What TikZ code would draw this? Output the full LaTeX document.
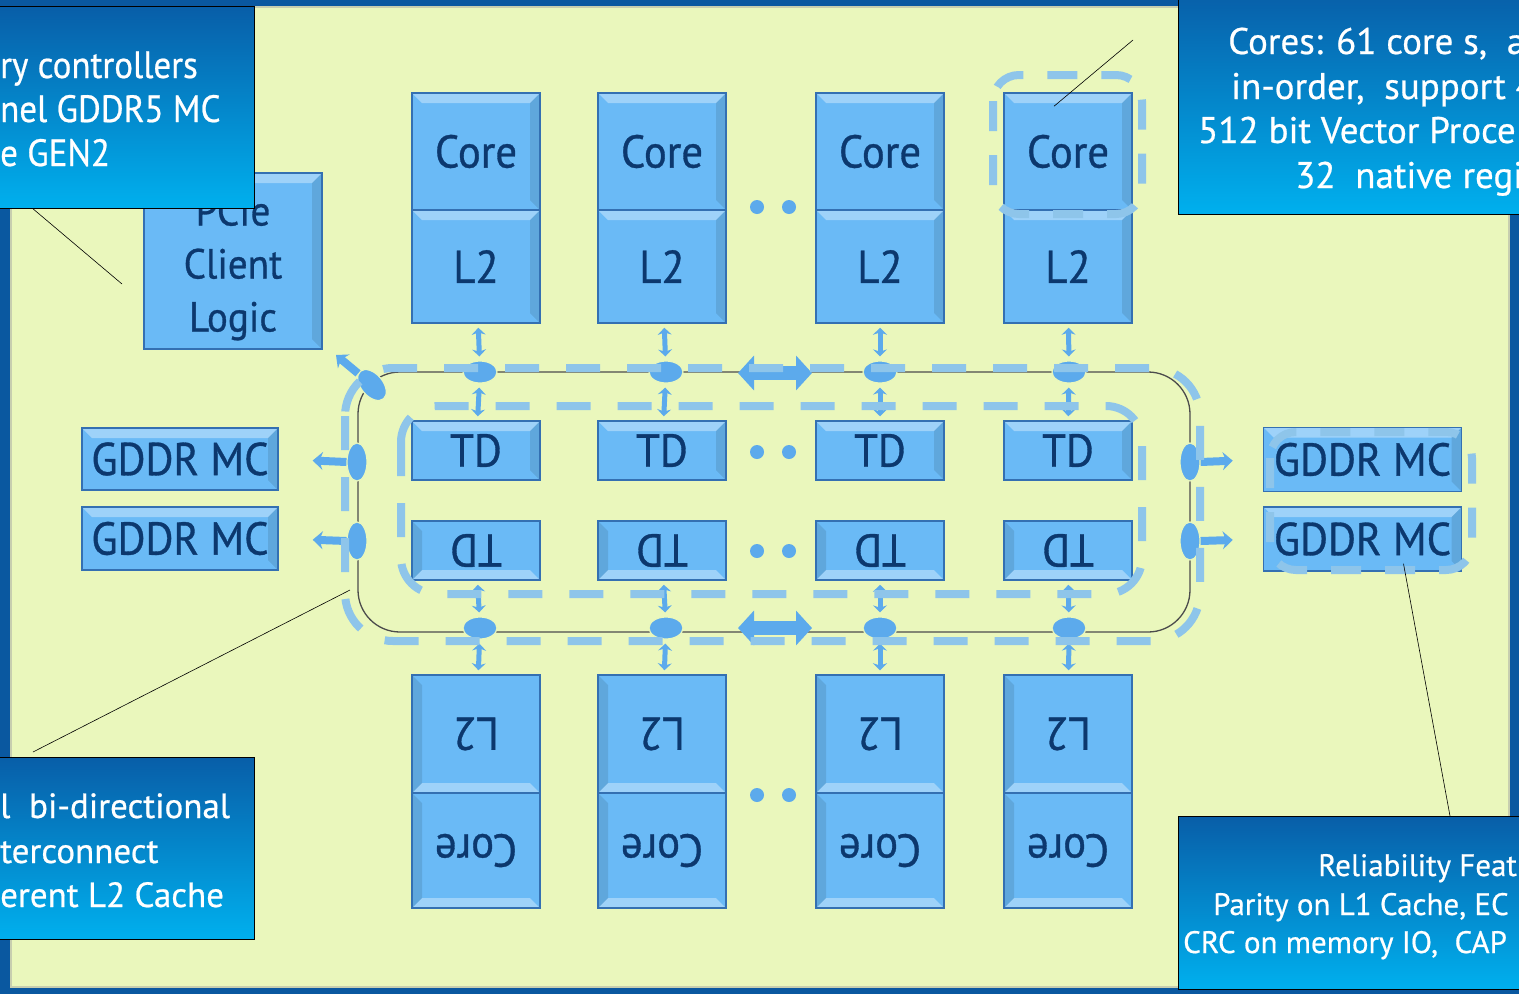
\documentclass[tikz,border=0pt]{standalone}
\usepackage{fontspec}
\setmainfont{PT Sans}
\newfontfamily\chipfont{PT Sans}[FakeStretch=0.93,FakeBold=0.7]
\newfontfamily\callfont{PT Sans}[FakeBold=0.6]
\newfontfamily\callnarrow{PT Sans}[FakeStretch=0.92,FakeBold=0.6]
\usetikzlibrary{arrows.meta,calc,shapes.geometric}

\definecolor{panelcol}{RGB}{234,247,188}
\definecolor{framecol}{RGB}{10,88,160}
\definecolor{chipfill}{RGB}{106,186,246}
\definecolor{chipedge}{RGB}{52,112,178}
\definecolor{chiptext}{RGB}{12,56,110}
\definecolor{dashblue}{RGB}{142,197,234}
\definecolor{stopblue}{RGB}{92,170,236}
\definecolor{calltop}{RGB}{8,94,168}
\definecolor{callbot}{RGB}{0,176,238}

\tikzset{
  chip/.style={draw=chipedge, line width=1.5pt, fill=chipfill, inner sep=0pt,
    text=chiptext, minimum width=128pt, font=\chipfont\fontsize{46}{46}\selectfont},
  bevelup/.style={path picture={
    \fill[white,opacity=.35] (path picture bounding box.north west) -- (path picture bounding box.north east)
      -- ([shift={(-10pt,-10pt)}]path picture bounding box.north east) -- ([shift={(10pt,-10pt)}]path picture bounding box.north west) -- cycle;
    \fill[black,opacity=.10] (path picture bounding box.north east) -- (path picture bounding box.south east)
      -- ([shift={(-10pt,10pt)}]path picture bounding box.south east) -- ([shift={(-10pt,-10pt)}]path picture bounding box.north east) -- cycle;}},
  beveldown/.style={path picture={
    \fill[white,opacity=.35] (path picture bounding box.south west) -- (path picture bounding box.south east)
      -- ([shift={(-10pt,10pt)}]path picture bounding box.south east) -- ([shift={(10pt,10pt)}]path picture bounding box.south west) -- cycle;
    \fill[black,opacity=.10] (path picture bounding box.north west) -- (path picture bounding box.south west)
      -- ([shift={(10pt,10pt)}]path picture bounding box.south west) -- ([shift={(10pt,-10pt)}]path picture bounding box.north west) -- cycle;}},
  callout/.style={draw=black, line width=0.8pt, top color=calltop, bottom color=callbot},
  calltext/.style={text=white, inner sep=0pt, anchor=base west},
  ringdash/.style={draw=dashblue, line width=8pt, dash pattern=on 34pt off 27pt},
  stop/.style={ellipse, fill=stopblue, draw=panelcol, line width=1.2pt, inner sep=0pt},
  hop/.style={stopblue, line width=5pt, {Stealth[length=7pt,width=14pt]}-{Stealth[length=7pt,width=14pt]},
    shorten <=4pt, shorten >=4pt},
  hopone/.style={stopblue, line width=8pt, -{Stealth[length=10pt,width=18pt]}},
  bigarrow/.style={stopblue, line width=14pt, {Triangle[length=16pt,width=34pt]}-{Triangle[length=16pt,width=34pt]}},
  leader/.style={black, line width=0.6pt},
}

\begin{document}
\begin{tikzpicture}[x=1pt,y=-1pt]
\useasboundingbox (0,0) rectangle (1519,994);
\clip (0,0) rectangle (1519,994);
% die background
\fill[framecol] (0,0) rectangle (1519,994);
\fill[panelcol] (10,6) rectangle (1510,988);
\draw[panelcol!75!black!70, line width=2pt] (11,7) rectangle (1509,987);

% cores, caches and tag directories
\foreach \i/\x in {1/476,2/662,3/880,4/1068}{
  \node[chip, bevelup, minimum height=117pt] (coreT\i) at (\x,151.5) {Core};
  \node[chip, bevelup, minimum height=113pt] (l2T\i) at (\x,266.5) {L2};
  \node[chip, bevelup, minimum height=59pt] (tdT\i) at (\x,450.5) {\raisebox{-3pt}{TD}};
  \node[chip, beveldown, minimum height=59pt] (tdB\i) at (\x,550.5) {\rotatebox{180}{TD}};
  \node[chip, beveldown, minimum height=118pt] (l2B\i) at (\x,734) {\rotatebox{180}{L2}};
  \node[chip, beveldown, minimum height=115pt] (coreB\i) at (\x,850.5) {\rotatebox{180}{Core}};
}
\node[chip, bevelup, minimum width=178pt, minimum height=176pt] (pcie) at (233,261) {};
\node[text=chiptext, align=center, inner sep=0pt, font=\chipfont\fontsize{42}{53}\selectfont]
  (pcieText) at ([yshift=-7pt]pcie.center) {PCIe\\Client\\Logic};
\node[chip, bevelup, minimum width=196pt, minimum height=62pt] (gddrL1) at (180,459) {GDDR MC};
\node[chip, bevelup, minimum width=196pt, minimum height=63pt] (gddrL2) at (180,538.5) {GDDR MC};
\node[chip, bevelup, minimum width=198pt, minimum height=64pt] (gddrR1) at (1362.5,459.5) {GDDR MC};
\node[chip, bevelup, minimum width=198pt, minimum height=64pt] (gddrR2) at (1362.5,539) {GDDR MC};

% dots
\foreach \y in {207,452,551,795}{
  \fill[stopblue] (757,\y) circle (7pt) (789,\y) circle (7pt);
}

% ring
\draw[black!70, line width=1.3pt, rounded corners=42pt] (358,372) rectangle (1190,632);
\foreach \i/\x in {1/480,2/666,3/880,4/1069}{
  \node[stop, minimum width=34pt, minimum height=22pt] (rsT\i) at (\x,372) {};
  \node[stop, minimum width=34pt, minimum height=22pt] (rsB\i) at (\x,628) {};
  \draw[hop] (l2T\i) -- (rsT\i);
  \draw[hop] (rsT\i) -- (tdT\i);
  \draw[hop] (tdB\i) -- (rsB\i);
  \draw[hop] (rsB\i) -- (l2B\i);
}
\node[stop, minimum width=20pt, minimum height=38pt] (rsL1) at (357,462) {};
\node[stop, minimum width=20pt, minimum height=38pt] (rsL2) at (357,541) {};
\node[stop, minimum width=20pt, minimum height=38pt] (rsR1) at (1190,462) {};
\node[stop, minimum width=20pt, minimum height=38pt] (rsR2) at (1190,541) {};
\node[stop, minimum width=36pt, minimum height=22pt, rotate=-50] (rsC) at (372,385) {};
\coordinate (pcieTip) at (336,355);
\draw[hopone, shorten >=34pt] (rsL1.west) -- (gddrL1.east);
\draw[hopone, shorten >=34pt] (rsL2.west) -- (gddrL2.east);
\draw[hopone, shorten >=30pt] (rsR1.east) -- (gddrR1.west);
\draw[hopone, shorten >=30pt] (rsR2.east) -- (gddrR2.west);
\draw[hopone] (rsC) -- (pcieTip);
\coordinate (bigTl) at (738,373);
\coordinate (bigTr) at (812,373);
\coordinate (bigBl) at (738,628);
\coordinate (bigBr) at (812,628);
\draw[bigarrow] (bigTl) -- (bigTr);
\draw[bigarrow] (bigBl) -- (bigBr);

% dashed outlines
\draw[ringdash, rounded corners=48pt] (345,368) rectangle (1200,641);
\draw[ringdash, rounded corners=36pt] (401,406) rectangle (1142,594);
\draw[ringdash, dash pattern=on 30pt off 24pt, rounded corners=26pt] (993,75) rectangle (1142,214);
\draw[ringdash, dash pattern=on 30pt off 24pt, rounded corners=26pt] (1270,432) rectangle (1472,570);

% callouts
\node[callout, anchor=north west, minimum width=264pt, minimum height=202pt] (memBox) at (-10,6) {};
\node[calltext, font=\callnarrow\fontsize{38}{44}\selectfont] (memL1) at (0,78) {ry controllers};
\node[calltext, font=\callnarrow\fontsize{38}{44}\selectfont] (memL2) at (0,122) {nel GDDR5 MC};
\node[calltext, font=\callnarrow\fontsize{38}{44}\selectfont] (memL3) at (0,166) {e GEN2};

\node[callout, anchor=north west, minimum width=360pt, minimum height=224pt] (coreBox) at (1178,-10) {};
\node[calltext, font=\callfont\fontsize{37}{44}\selectfont] (coreL1) at (1228,54) {Cores: 61 core s,\ \ a};
\node[calltext, font=\callfont\fontsize{37}{44}\selectfont] (coreL2) at (1231,99) {in-order,\ \ support 4};
\node[calltext, font=\callfont\fontsize{37}{44}\selectfont] (coreL3) at (1198,143) {512 bit Vector Proce};
\node[calltext, font=\callfont\fontsize{37}{44}\selectfont] (coreL4) at (1295,188) {32\ \ native regi};

\node[callout, anchor=north west, minimum width=264pt, minimum height=182pt] (ringBox) at (-10,757) {};
\node[calltext, font=\callfont\fontsize{35}{44}\selectfont] (ringL1) at (0,818) {l\ \ bi-directional};
\node[calltext, font=\callfont\fontsize{35}{44}\selectfont] (ringL2) at (0,863) {terconnect};
\node[calltext, font=\callfont\fontsize{35}{44}\selectfont] (ringL3) at (0,907) {erent L2 Cache};

\node[callout, anchor=north west, minimum width=360pt, minimum height=173pt] (relBox) at (1178,816) {};
\node[calltext, font=\callfont\fontsize{31}{38}\selectfont] (relL1) at (1318,876) {Reliability Feat};
\node[calltext, font=\callfont\fontsize{31}{38}\selectfont] (relL2) at (1213,915) {Parity on L1 Cache, EC};
\node[calltext, font=\callfont\fontsize{31}{38}\selectfont] (relL3) at (1183,953) {CRC on memory IO,\ \ CAP};

% leader lines
\coordinate (memTip) at (122,284);
\coordinate (coreFree) at (1133,40);
\coordinate (ringFree) at (33,752);
\coordinate (ringTip) at (350,590);
\draw[leader] ([xshift=43pt]memBox.south west) -- (memTip);
\draw[leader] (coreFree) -- ([shift={(-14pt,-14pt)}]coreT4.north);
\draw[leader] (ringFree) -- (ringTip);
\draw[leader] ([xshift=272pt]relBox.north west) -- ([shift={(41pt,8pt)}]gddrR2.south);
\end{tikzpicture}
\end{document}
